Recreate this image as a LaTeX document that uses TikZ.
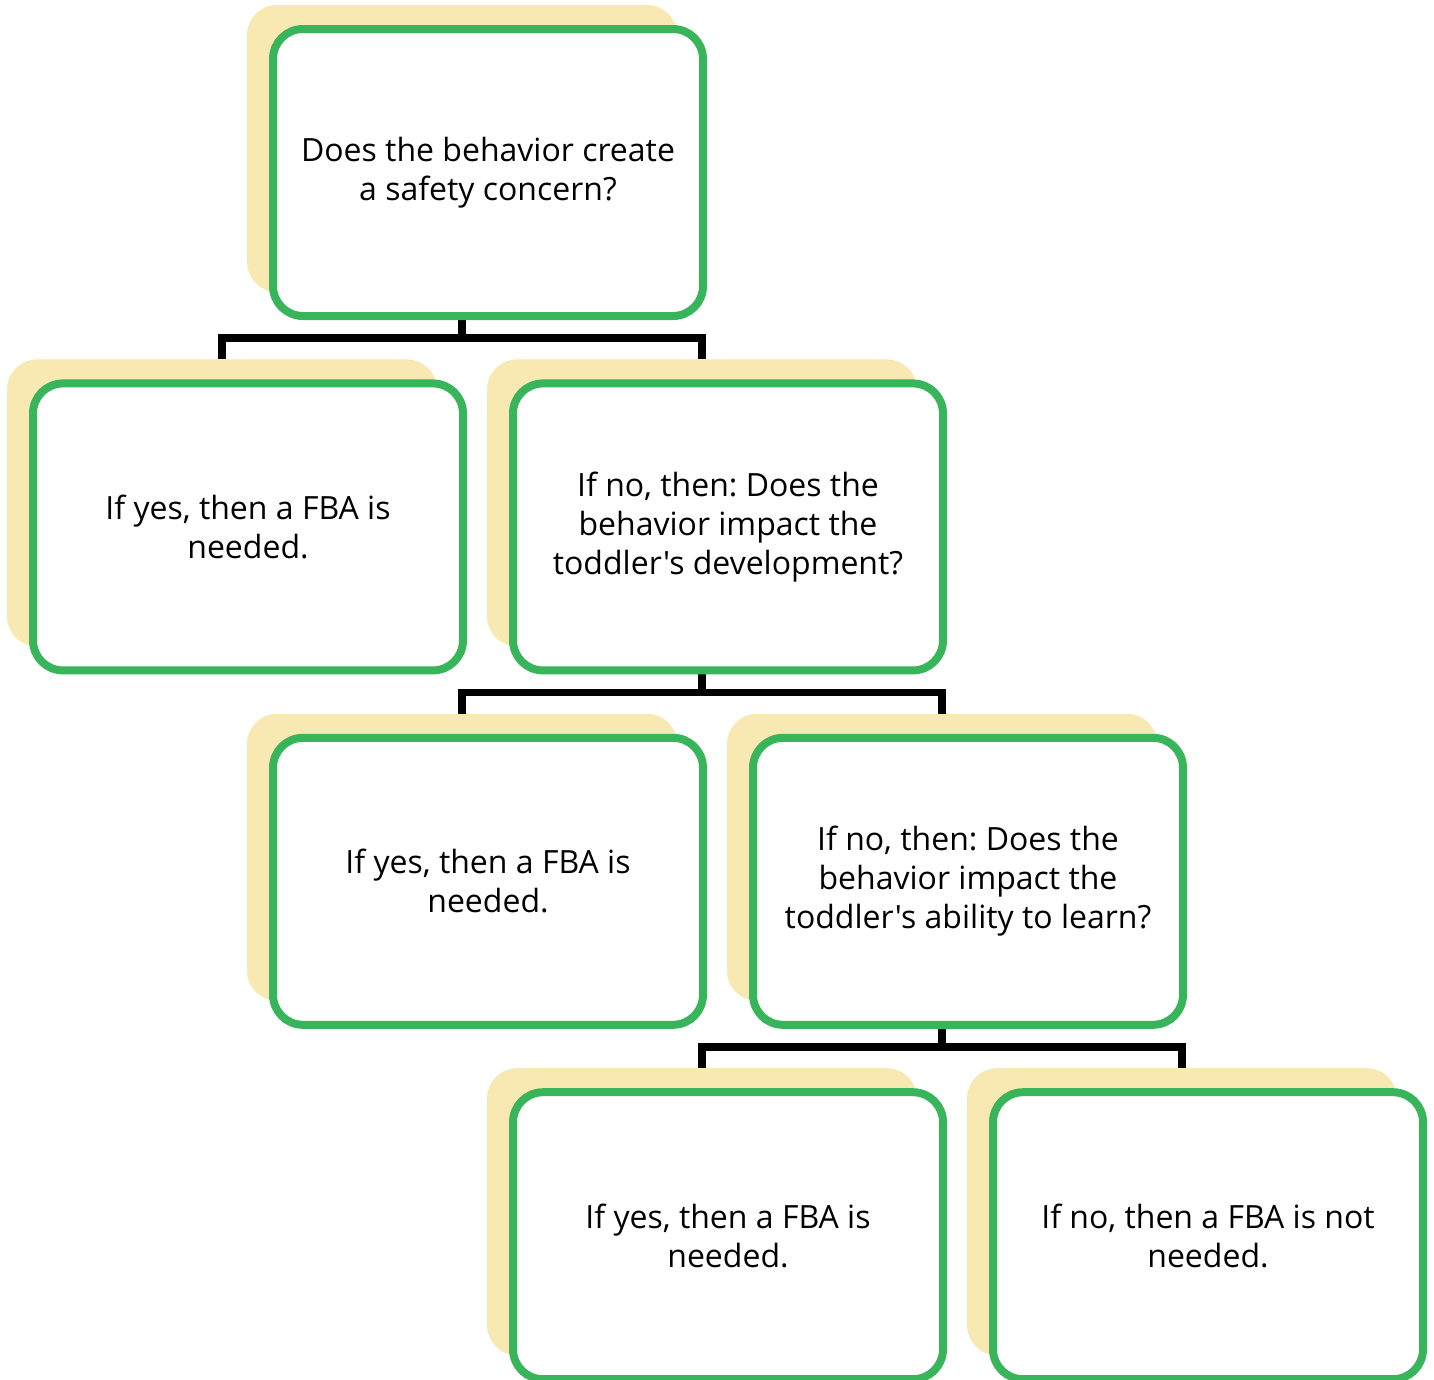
\documentclass[tikz,border=0pt]{standalone}
\usepackage{fontspec}
\setmainfont{Open Sans}[Ligatures=TeXOff]
\usetikzlibrary{positioning}
\definecolor{ink}{HTML}{000000}
\definecolor{leaf}{HTML}{38B55A}
\definecolor{cream}{HTML}{F8E9B2}
\frenchspacing

\begin{document}
\begin{tikzpicture}[x=1pt,y=1pt,font=\fontsize{32}{39}\selectfont,
  back/.style={fill=cream,rounded corners=30pt,minimum width=430pt,minimum height=287pt},
  front/.style={draw=leaf,line width=8pt,fill=white,rounded corners=30pt,minimum width=430pt,
                minimum height=287pt,align=center,xshift=26pt,yshift=-24pt},
  link/.style={draw=ink,line width=7.5pt}]
  \useasboundingbox (0,0) rectangle (1434,-1379);
  \node[back] (q1b) at (462,-148.5) {};
  \node[back,below=67pt of q1b,xshift=-240pt] (a1b) {};
  \node[back,below=67pt of q1b,xshift=240pt] (q2b) {};
  \node[back,below=67pt of q2b,xshift=-240pt] (a2b) {};
  \node[back,below=67pt of q2b,xshift=240pt] (q3b) {};
  \node[back,below=67pt of q3b,xshift=-240pt] (a3b) {};
  \node[back,below=67pt of q3b,xshift=240pt] (a4b) {};
  \foreach \p/\l/\r in {q1b/a1b/q2b,q2b/a2b/q3b,q3b/a3b/a4b}{
    \draw[link] (\p.south) -- ++(0,-46) -| (\l.north);
    \draw[link] (\p.south) -- ++(0,-46) -| (\r.north);}
  \node[front] (q1) at (q1b) {Does the behavior create\\a safety concern?};
  \node[front] (a1) at (a1b) {If yes, then a FBA is\\needed.};
  \node[front] (q2) at (q2b) {If no, then: Does the\\behavior impact the\\toddler's development?};
  \node[front] (a2) at (a2b) {If yes, then a FBA is\\needed.};
  \node[front] (q3) at (q3b) {If no, then: Does the\\behavior impact the\\toddler's ability to learn?};
  \node[front] (a3) at (a3b) {If yes, then a FBA is\\needed.};
  \node[front] (a4) at (a4b) {If no, then a FBA is not\\needed.};
\end{tikzpicture}
\end{document}
